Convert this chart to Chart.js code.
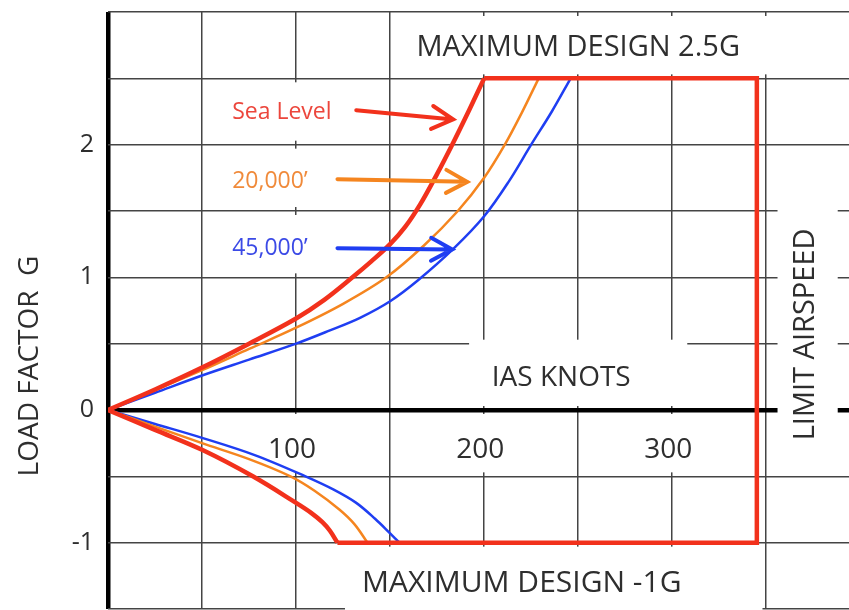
<!DOCTYPE html>
<html>
<head>
<meta charset="utf-8">
<script src="https://cdn.jsdelivr.net/npm/chart.js@4.4.1/dist/chart.umd.min.js"></script>
<style>
  html, body { margin: 0; padding: 0; background: #fff; }
  #wrap { width: 849px; height: 610px; }
</style>
</head>
<body>
<div id="wrap"><canvas id="myChart" width="849" height="610"></canvas></div>
<script>
// speeds in knots IAS, loads in G
const seaLevelUpKn = [0, 25, 50, 75, 100, 115, 130, 140, 150, 158, 166, 175, 183, 192, 200];
const seaLevelUpG  = [0, 0.155, 0.32, 0.5, 0.69, 0.83, 1.0, 1.12, 1.25, 1.38, 1.55, 1.78, 2.0, 2.26, 2.5];
const seaLevelDnKn = [0, 25, 50, 77, 100, 108, 114, 118, 122];
const seaLevelDnG  = [0, -0.15, -0.30, -0.5, -0.70, -0.775, -0.845, -0.91, -1.0];

const ft20kUpKn = [0, 25, 50, 75, 100, 125, 148, 168, 186, 200, 211, 220, 229];
const ft20kUpG  = [0, 0.15, 0.30, 0.46, 0.62, 0.80, 1.0, 1.24, 1.5, 1.75, 2.0, 2.24, 2.5];
const ft20kDnKn = [0, 25, 50, 75, 97, 110, 123, 131, 138];
const ft20kDnG  = [0, -0.125, -0.25, -0.37, -0.5, -0.61, -0.75, -0.86, -1.0];

const ft45kUpKn = [0, 25, 50, 75, 100, 118, 134, 150, 165, 184, 200, 213, 225, 236, 246];
const ft45kUpG  = [0, 0.13, 0.26, 0.38, 0.50, 0.60, 0.695, 0.82, 0.98, 1.22, 1.46, 1.72, 2.0, 2.25, 2.5];
const ft45kDnKn = [0, 25, 50, 78, 105, 120, 132, 142, 150, 155];
const ft45kDnG  = [0, -0.105, -0.21, -0.34, -0.5, -0.60, -0.70, -0.82, -0.93, -1.0];

// structural envelope: max design 2.5G, limit airspeed, max design -1G
const envelopeKn = [200, 345, 345, 122];
const envelopeG  = [2.5, 2.5, -1.0, -1.0];

const speedTicks = [100, 200, 300];
const loadTicks = [-1, 0, 1, 2];

const RED = '#f2311c', ORANGE = '#f5851f', BLUE = '#1f3ef2';
const TXT = '#2e2e2e';
const FONT = '"Open Sans", sans-serif';

function pts(xs, ys) {
  return xs.map((x, i) => ({ x: x, y: ys[i] }));
}

function curve(label, xs, ys, color, width) {
  return {
    label: label,
    data: pts(xs, ys),
    borderColor: color,
    borderWidth: width,
    pointRadius: 0,
    showLine: true,
    tension: 0.35
  };
}

// white label backgrounds [kn1, kn2, g1, g2]
const boxes = [
  [60, 126, 2.03, 2.47], [60, 126, 1.53, 1.97], [60, 126, 1.03, 1.47],
  [155, 352, 2.53, 2.97],
  [192, 308, 0.03, 0.53],
  [84, 112, -0.47, -0.03], [186, 214, -0.47, -0.03], [284, 313, -0.47, -0.03],
  [126, 348, -1.03, -1.6],
  [356, 388, -0.45, 1.74]
];

const arrows = [
  { from: [132, 2.26], to: [183.5, 2.19], color: RED },
  { from: [122, 1.74], to: [191, 1.72], color: ORANGE },
  { from: [122, 1.22], to: [183, 1.21], color: BLUE }
];

const notes = [
  { text: 'MAXIMUM DESIGN 2.5G', at: [250, 2.73], size: 29, color: TXT },
  { text: 'IAS KNOTS', at: [241, 0.24], size: 28, color: TXT },
  { text: 'MAXIMUM DESIGN -1G', at: [220, -1.31], size: 30, color: TXT },
  { text: 'LIMIT AIRSPEED', at: [371, 0.57], size: 29, color: TXT, rotate: true },
  { text: 'Sea Level', at: [66, 2.24], size: 23, color: '#ec463c', left: true },
  { text: '20,000\u2019', at: [66, 1.72], size: 23, color: '#f08a3a', left: true },
  { text: '45,000\u2019', at: [66, 1.22], size: 23, color: '#3b4ae6', left: true }
];

const vnPlugin = {
  id: 'vnPlugin',
  beforeDatasetsDraw(chart) {
    const c = chart.ctx, xs = chart.scales.x, ys = chart.scales.y;
    c.save();
    c.fillStyle = '#fff';
    boxes.forEach(b => {
      const x1 = xs.getPixelForValue(b[0]), x2 = xs.getPixelForValue(b[1]);
      const y1 = ys.getPixelForValue(b[2]), y2 = ys.getPixelForValue(b[3]);
      c.fillRect(x1, Math.min(y1, y2), x2 - x1, Math.abs(y2 - y1));
    });
    // speed tick labels sit inside the plot, under the zero line
    c.fillStyle = TXT;
    c.font = '28px ' + FONT;
    c.textAlign = 'center';
    c.textBaseline = 'middle';
    speedTicks.forEach(v => {
      c.fillText(String(v), xs.getPixelForValue(v) - 4, ys.getPixelForValue(-0.3));
    });
    c.restore();
  },
  afterDatasetsDraw(chart) {
    const c = chart.ctx, xs = chart.scales.x, ys = chart.scales.y;
    c.save();
    arrows.forEach(a => {
      const x1 = xs.getPixelForValue(a.from[0]), y1 = ys.getPixelForValue(a.from[1]);
      const x2 = xs.getPixelForValue(a.to[0]), y2 = ys.getPixelForValue(a.to[1]);
      const ang = Math.atan2(y2 - y1, x2 - x1);
      c.strokeStyle = a.color;
      c.lineWidth = 4;
      c.lineCap = 'round';
      c.beginPath();
      c.moveTo(x1, y1);
      c.lineTo(x2, y2);
      c.moveTo(x2 - 24 * Math.cos(ang - 0.5), y2 - 24 * Math.sin(ang - 0.5));
      c.lineTo(x2, y2);
      c.lineTo(x2 - 24 * Math.cos(ang + 0.5), y2 - 24 * Math.sin(ang + 0.5));
      c.stroke();
    });
    notes.forEach(n => {
      const x = xs.getPixelForValue(n.at[0]), y = ys.getPixelForValue(n.at[1]);
      c.fillStyle = n.color;
      c.font = n.size + 'px ' + FONT;
      c.textBaseline = 'middle';
      c.textAlign = n.left ? 'left' : 'center';
      if (n.rotate) {
        c.save();
        c.translate(x, y);
        c.rotate(-Math.PI / 2);
        c.fillText(n.text, 0, 0);
        c.restore();
      } else {
        c.fillText(n.text, x, y);
      }
    });
    // y axis title
    c.save();
    c.fillStyle = TXT;
    c.font = '28px ' + FONT;
    c.textAlign = 'center';
    c.textBaseline = 'middle';
    c.translate(30, 366);
    c.rotate(-Math.PI / 2);
    c.fillText('LOAD FACTOR  G', 0, 0);
    c.restore();
    c.restore();
  }
};

const data = {
  datasets: [
    {
      label: 'Envelope',
      data: pts(envelopeKn, envelopeG),
      borderColor: RED,
      borderWidth: 4.5,
      pointRadius: 0,
      showLine: true,
      tension: 0,
      borderJoinStyle: 'miter'
    },
    curve('Sea Level', seaLevelUpKn, seaLevelUpG, RED, 4.5),
    curve('Sea Level neg', seaLevelDnKn, seaLevelDnG, RED, 4.5),
    curve('20,000 ft', ft20kUpKn, ft20kUpG, ORANGE, 2.5),
    curve('20,000 ft neg', ft20kDnKn, ft20kDnG, ORANGE, 2.5),
    curve('45,000 ft', ft45kUpKn, ft45kUpG, BLUE, 2.5),
    curve('45,000 ft neg', ft45kDnKn, ft45kDnG, BLUE, 2.5)
  ]
};

const config = {
  type: 'scatter',
  data: data,
  options: {
    responsive: false,
    animation: false,
    layout: { padding: { top: 12, right: 0, bottom: 1, left: 0 } },
    plugins: {
      legend: { display: false },
      tooltip: { enabled: false }
    },
    scales: {
      x: {
        type: 'linear',
        min: 0,
        max: 394,
        border: { display: false },
        ticks: { display: false, stepSize: 50 },
        grid: {
          drawTicks: false,
          color: ctx => ctx.tick.value === 0 ? '#000' : (ctx.tick.value % 50 === 0 ? '#444' : 'rgba(0,0,0,0)'),
          lineWidth: ctx => ctx.tick.value === 0 ? 4.5 : 1.5
        },
        afterFit: s => { s.height = 0; s.paddingLeft = 0; s.paddingRight = 0; }
      },
      y: {
        type: 'linear',
        min: -1.5,
        max: 3,
        border: { display: false },
        ticks: {
          stepSize: 0.5,
          padding: 14,
          color: TXT,
          font: { family: FONT, size: 25 },
          callback: v => loadTicks.includes(v) ? String(v) : ''
        },
        grid: {
          drawTicks: false,
          color: ctx => ctx.tick.value === 0 ? '#000' : '#444',
          lineWidth: ctx => ctx.tick.value === 0 ? 4.5 : 1.5
        },
        afterFit: s => { s.width = 108; s.paddingTop = 0; s.paddingBottom = 0; }
      }
    }
  },
  plugins: [vnPlugin]
};

var myChart = new Chart(document.getElementById('myChart').getContext('2d'), config);
</script>
</body>
</html>
